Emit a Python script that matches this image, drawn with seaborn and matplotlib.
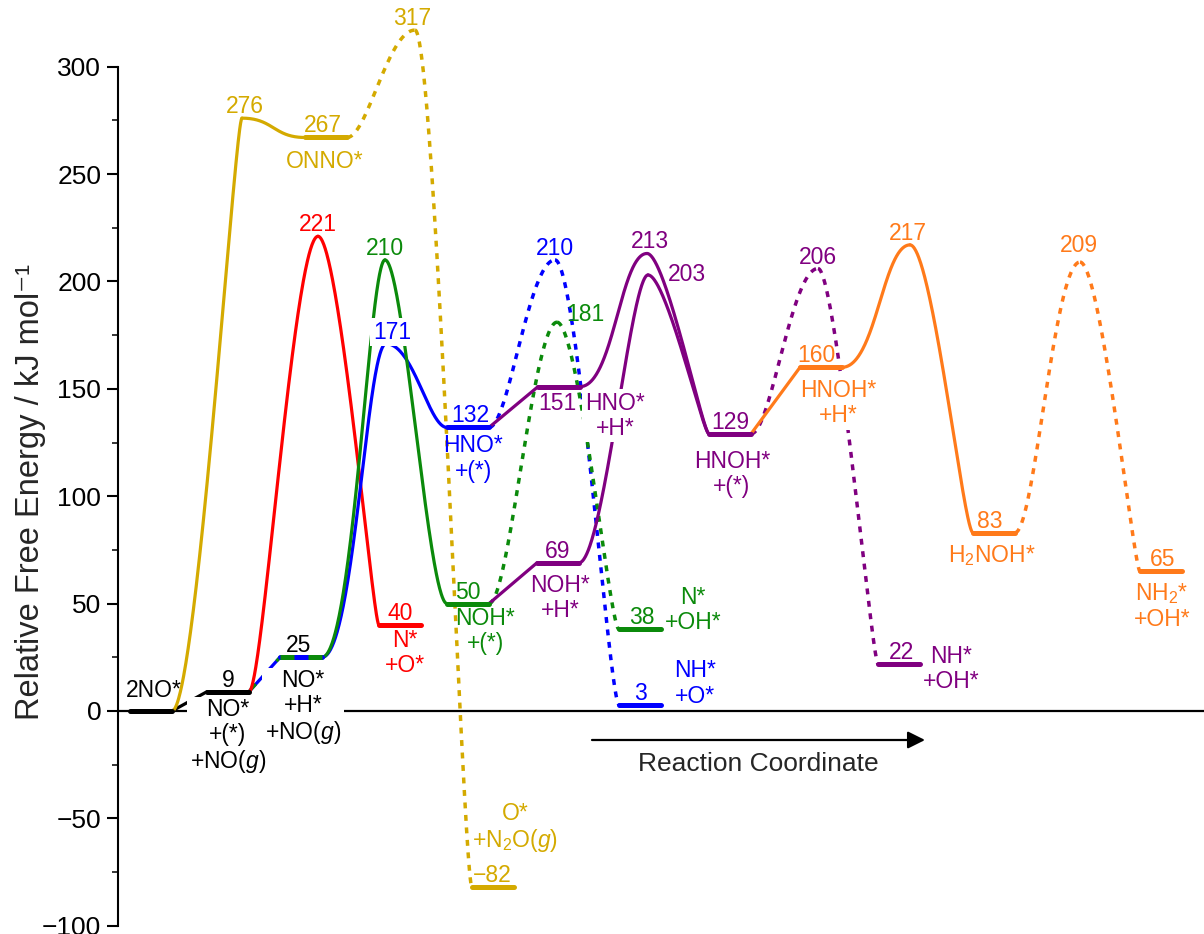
import numpy as np
import matplotlib
matplotlib.use("Agg")
import matplotlib.pyplot as plt
import seaborn as sns

# ---------------- free energies (kJ mol^-1) ----------------
start_E = [0, 9, 25]                        # 2NO*, NO*+(*)+NO(g), NO*+H*+NO(g)
onno_E = [276, 267, 317, -82]               # TS, ONNO*, TS, O*+N2O(g)
diss_E = [221, 40]                          # TS, N*+O*
hno_E = [171, 132, 210, 3]                  # TS, HNO*+(*), TS, NH*+O*
noh_E = [210, 50, 181, 38]                  # TS, NOH*+(*), TS, N*+OH*
hnoh_E = [151, 213, 69, 203, 129, 206, 22]  # HNO*+H*, TS, NOH*+H*, TS, HNOH*+(*), TS, NH*+OH*
h2noh_E = [160, 217, 83, 209, 65]           # HNOH*+H*, TS, H2NOH*, TS, NH2*+OH*

# ---------------- placement along the reaction coordinate ----------------
# plateaus: left edge of the level; transition states: position of the maximum
start_x = [130, 207, 280]
onno_x = [242, 305, 415, 472]
diss_x = [318, 379]
hno_x = [386, 447, 555, 619]
noh_x = [385, 447, 557, 619]
hnoh_x = [538, 647, 537, 648, 709, 818, 878]
h2noh_x = [800, 910, 973, 1080, 1140]
LEVEL_W = 42

BLACK, GOLD, RED = "black", "#d4aa00", "#ff0000"
GREEN, BLUE, PURPLE, ORANGE = "#0b8a0b", "#0000ff", "#800080", "#ff7a1a"

sns.set_theme(style="white")
plt.rcParams["font.family"] = ["Liberation Sans", "DejaVu Sans"]
plt.rcParams["mathtext.fontset"] = "custom"
plt.rcParams["mathtext.rm"] = "Liberation Sans"
plt.rcParams["mathtext.it"] = "Liberation Sans:italic"
plt.rcParams["mathtext.bf"] = "Liberation Sans:bold"
LABEL_FONT = ["Liberation Sans", "DejaVu Sans"]
LABEL_SIZE = 16.5

CURVE_LW, LEVEL_LW, DOT_LW = 2.3, 3.6, 2.5
DOTS = (0, (1.7, 1.9))

fig = plt.figure(figsize=(12.04, 9.34), dpi=100)
ax = fig.add_axes([118 / 1204, 0, 1 - 118 / 1204, 1])
ax.set_xlim(118, 1204)
ax.set_ylim(-(934 - 711) / 2.148, 711 / 2.148)


def bezier(x0, y0, x1, y1, k0, k1, n=150):
    """Cubic Bezier between two points with horizontal end tangents."""
    t = np.linspace(0, 1, n)[:, None]
    dx = x1 - x0
    P = np.array([[x0, y0], [x0 + k0 * dx, y0], [x1 - k1 * dx, y1], [x1, y1]])
    B = ((1 - t) ** 3) * P[0] + 3 * ((1 - t) ** 2) * t * P[1] \
        + 3 * (1 - t) * t ** 2 * P[2] + t ** 3 * P[3]
    return B[:, 0], B[:, 1]


def link(x0, y0, x1, y1, color, k0=0.4, k1=0.4, dotted=False, ls=None, lw=None, z=2):
    xs, ys = bezier(x0, y0, x1, y1, k0, k1)
    style = DOTS if dotted else "-"
    if ls is not None:
        style = ls
    sns.lineplot(x=xs, y=ys, ax=ax, color=color, sort=False, estimator=None,
                 linewidth=lw or (DOT_LW if dotted else CURVE_LW), linestyle=style,
                 zorder=z, solid_capstyle="round")


def level(xl, E, color, ls="-", z=4):
    sns.lineplot(x=[xl, xl + LEVEL_W], y=[E, E], ax=ax, color=color, sort=False,
                 estimator=None, linewidth=LEVEL_LW, linestyle=ls, zorder=z,
                 solid_capstyle="round")


def mid(xl):
    return xl + LEVEL_W / 2


def note(text, x, y, dx, dy, color, ha="center", va="baseline", box=False):
    kw = dict(xy=(x, y), xytext=(dx, dy), textcoords="offset pixels", ha=ha, va=va,
              color=color, fontsize=LABEL_SIZE, family=LABEL_FONT, linespacing=1.12,
              multialignment="center", zorder=3)
    if box:
        kw["bbox"] = dict(boxstyle="square,pad=0.12", fc="white", ec="none")
    ax.annotate(text, **kw)


def num(E):
    return str(E).replace("-", "\u2212")


# zero reference line
ax.axhline(0, color="black", lw=1.6, zorder=1)

# ---------------- common start: 2NO* -> NO* -> NO*+H* ----------------
level(start_x[0], start_E[0], BLACK)
link(start_x[0] + LEVEL_W, start_E[0], start_x[1], start_E[1], BLACK, 0, 0)
level(start_x[1], start_E[1], BLACK)
# shared blue/green branch
link(start_x[1] + LEVEL_W, start_E[1], start_x[2], start_E[2], BLUE, 0, 0)
link(start_x[1] + LEVEL_W, start_E[1], start_x[2], start_E[2], GREEN, 0, 0, ls=(0, (3.2, 3.2)))
level(start_x[2], start_E[2], BLUE)
level(start_x[2], start_E[2], GREEN, ls=(0, (2.8, 2.8)))

# ---------------- N2O route (gold) ----------------
link(start_x[0] + LEVEL_W, start_E[0], onno_x[0], onno_E[0], GOLD, 0.35, 0.1)
link(onno_x[0], onno_E[0], onno_x[1], onno_E[1], GOLD, 0.5, 0.5)
level(onno_x[1], onno_E[1], GOLD)
link(onno_x[1] + LEVEL_W, onno_E[1], onno_x[2], onno_E[2], GOLD, 0.3, 0.4, dotted=True)
link(onno_x[2], onno_E[2], onno_x[3], onno_E[3], GOLD, 0.35, 0.15, dotted=True)
level(onno_x[3], onno_E[3], GOLD)

# ---------------- direct dissociation (red) ----------------
link(start_x[1] + LEVEL_W, start_E[1], diss_x[0], diss_E[0], RED, 0.2, 0.35)
link(diss_x[0], diss_E[0], diss_x[1], diss_E[1], RED, 0.35, 0.1)
level(diss_x[1], diss_E[1], RED)

# ---------------- HNO route (blue) ----------------
link(start_x[2] + LEVEL_W, start_E[2], hno_x[0], hno_E[0], BLUE, 0.5, 0.3)
link(hno_x[0], hno_E[0], hno_x[1], hno_E[1], BLUE, 0.45, 0.3)
level(hno_x[1], hno_E[1], BLUE)
link(hno_x[1] + LEVEL_W, hno_E[1], hno_x[2], hno_E[2], BLUE, 0.3, 0.4, dotted=True)
link(hno_x[2], hno_E[2], hno_x[3], hno_E[3], BLUE, 0.35, 0.15, dotted=True)
level(hno_x[3], hno_E[3], BLUE)

# ---------------- NOH route (green) ----------------
link(start_x[2] + LEVEL_W, start_E[2], noh_x[0], noh_E[0], GREEN, 0.5, 0.25)
link(noh_x[0], noh_E[0], noh_x[1], noh_E[1], GREEN, 0.3, 0.3)
level(noh_x[1], noh_E[1], GREEN)
link(noh_x[1] + LEVEL_W, noh_E[1], noh_x[2], noh_E[2], GREEN, 0.3, 0.35, dotted=True)
link(noh_x[2], noh_E[2], noh_x[3], noh_E[3], GREEN, 0.35, 0.15, dotted=True)
level(noh_x[3], noh_E[3], GREEN)

# ---------------- second hydrogenation (purple) ----------------
link(hno_x[1] + LEVEL_W, hno_E[1], hnoh_x[0], hnoh_E[0], PURPLE, 0, 0)
level(hnoh_x[0], hnoh_E[0], PURPLE)
link(hnoh_x[0] + LEVEL_W, hnoh_E[0], hnoh_x[1], hnoh_E[1], PURPLE, 0.5, 0.4)
link(hnoh_x[1], hnoh_E[1], hnoh_x[4], hnoh_E[4], PURPLE, 0.3, 0.1)
link(noh_x[1] + LEVEL_W, noh_E[1], hnoh_x[2], hnoh_E[2], PURPLE, 0, 0)
level(hnoh_x[2], hnoh_E[2], PURPLE)
link(hnoh_x[2] + LEVEL_W, hnoh_E[2], hnoh_x[3], hnoh_E[3], PURPLE, 0.35, 0.25)
link(hnoh_x[3], hnoh_E[3], hnoh_x[4], hnoh_E[4], PURPLE, 0.3, 0.1)
level(hnoh_x[4], hnoh_E[4], PURPLE)
link(hnoh_x[4] + LEVEL_W, hnoh_E[4], hnoh_x[5], hnoh_E[5], PURPLE, 0.3, 0.4, dotted=True)
link(hnoh_x[5], hnoh_E[5], hnoh_x[6], hnoh_E[6], PURPLE, 0.3, 0.1, dotted=True)
level(hnoh_x[6], hnoh_E[6], PURPLE)

# ---------------- third hydrogenation (orange) ----------------
link(hnoh_x[4] + LEVEL_W, hnoh_E[4], h2noh_x[0], h2noh_E[0], ORANGE, 0, 0)
level(h2noh_x[0], h2noh_E[0], ORANGE)
link(h2noh_x[0] + LEVEL_W, h2noh_E[0], h2noh_x[1], h2noh_E[1], ORANGE, 0.5, 0.4)
link(h2noh_x[1], h2noh_E[1], h2noh_x[2], h2noh_E[2], ORANGE, 0.35, 0.15)
level(h2noh_x[2], h2noh_E[2], ORANGE)
link(h2noh_x[2] + LEVEL_W, h2noh_E[2], h2noh_x[3], h2noh_E[3], ORANGE, 0.3, 0.4, dotted=True)
link(h2noh_x[3], h2noh_E[3], h2noh_x[4], h2noh_E[4], ORANGE, 0.35, 0.1, dotted=True)
level(h2noh_x[4], h2noh_E[4], ORANGE)

# ---------------- labels ----------------
G = r"$\mathit{(g)}$"
note("2NO*", mid(start_x[0]), start_E[0], 3, 14, BLACK)
note(num(start_E[1]), mid(start_x[1]), start_E[1], 0, 5, BLACK)
note("NO*\n+(*)\n+NO" + G, mid(start_x[1]), start_E[1], 0, -45, BLACK, va="center", box=True)
note(num(start_E[2]), mid(start_x[2]), start_E[2], -2, 5, BLACK)
note("NO*\n+H*\n+NO" + G, mid(start_x[2]), start_E[2], 2, -50, BLACK, va="center", box=True)

note(num(onno_E[0]), onno_x[0], onno_E[0], 3, 5, GOLD)
note(num(onno_E[1]), mid(onno_x[1]), onno_E[1], -3, 5, GOLD)
note("ONNO*", mid(onno_x[1]), onno_E[1], -1, -24, GOLD, va="center")
note(num(onno_E[2]), onno_x[2], onno_E[2], -3, 5, GOLD)
note(num(onno_E[3]), mid(onno_x[3]), onno_E[3], -1, 5, GOLD)
note("O*\n+N$_2$O" + G, mid(onno_x[3]), onno_E[3], 22, 59, GOLD, va="center")

note(num(diss_E[0]), diss_x[0], diss_E[0], 0, 5, RED)
note(num(diss_E[1]), mid(diss_x[1]), diss_E[1], 0, 5, RED)
note("N*\n+O*", mid(diss_x[1]), diss_E[1], 5, -28, RED, va="center")

note(num(hno_E[0]), hno_x[0], hno_E[0], 6, 5, BLUE, box=True)
note(num(hno_E[1]), mid(hno_x[1]), hno_E[1], 2, 5, BLUE)
note("HNO*\n+(*)", mid(hno_x[1]), hno_E[1], 5, -31, BLUE, va="center")
note(num(hno_E[2]), hno_x[2], hno_E[2], 0, 5, BLUE)
note(num(hno_E[3]), mid(hno_x[3]), hno_E[3], 0, 5, BLUE)
note("NH*\n+O*", mid(hno_x[3]), hno_E[3], 55, 21, BLUE, va="center")

note(num(noh_E[0]), noh_x[0], noh_E[0], 0, 5, GREEN)
note(num(noh_E[1]), mid(noh_x[1]), noh_E[1], 0, 5, GREEN)
note("NOH*\n+(*)", mid(noh_x[1]), noh_E[1], 17, -27, GREEN, va="center")
note(num(noh_E[2]), noh_x[2], noh_E[2], 28, 8, GREEN, va="center")
note(num(noh_E[3]), mid(noh_x[3]), noh_E[3], 2, 5, GREEN)
note("N*\n+OH*", mid(noh_x[3]), noh_E[3], 53, 19, GREEN, va="center")

note(num(hnoh_E[0]), mid(hnoh_x[0]), hnoh_E[0], -2, -17, PURPLE, va="center")
note("HNO*\n+H*", mid(hnoh_x[0]), hnoh_E[0], 56, -29, PURPLE, va="center", box=True)
note(num(hnoh_E[1]), hnoh_x[1], hnoh_E[1], 3, 5, PURPLE)
note(num(hnoh_E[2]), mid(hnoh_x[2]), hnoh_E[2], 0, 5, PURPLE)
note("NOH*\n+H*", mid(hnoh_x[2]), hnoh_E[2], 2, -35, PURPLE, va="center")
note(num(hnoh_E[3]), hnoh_x[3], hnoh_E[3], 39, 0, PURPLE, va="center")
note(num(hnoh_E[4]), mid(hnoh_x[4]), hnoh_E[4], 0, 5, PURPLE)
note("HNOH*\n+(*)", mid(hnoh_x[4]), hnoh_E[4], 2, -40, PURPLE, va="center")
note(num(hnoh_E[5]), hnoh_x[5], hnoh_E[5], 0, 5, PURPLE)
note(num(hnoh_E[6]), mid(hnoh_x[6]), hnoh_E[6], 2, 5, PURPLE)
note("NH*\n+OH*", mid(hnoh_x[6]), hnoh_E[6], 52, -5, PURPLE, va="center")

note(num(h2noh_E[0]), mid(h2noh_x[0]), h2noh_E[0], -5, 5, ORANGE)
note("HNOH*\n+H*", mid(h2noh_x[0]), h2noh_E[0], 17, -36, ORANGE, va="center", box=True)
note(num(h2noh_E[1]), h2noh_x[1], h2noh_E[1], -2, 5, ORANGE)
note(num(h2noh_E[2]), mid(h2noh_x[2]), h2noh_E[2], -4, 5, ORANGE)
note("H$_2$NOH*", mid(h2noh_x[2]), h2noh_E[2], -2, -23, ORANGE, va="center")
note(num(h2noh_E[3]), h2noh_x[3], h2noh_E[3], -1, 10, ORANGE)
note(num(h2noh_E[4]), mid(h2noh_x[4]), h2noh_E[4], 2, 5, ORANGE)
note("NH$_2$*\n+OH*", mid(h2noh_x[4]), h2noh_E[4], 1, -35, ORANGE, va="center")

# reaction coordinate arrow
ax.annotate("", xy=(925, -13.5), xytext=(592, -13.5),
            arrowprops=dict(arrowstyle="-|>", color="black", lw=1.6, mutation_scale=26,
                            shrinkA=0, shrinkB=0))
ax.text(758, -24.5, "Reaction Coordinate", ha="center", va="center", fontsize=19,
        family=["Liberation Sans", "DejaVu Sans"])

# ---------------- axes styling ----------------
for side in ("top", "right", "bottom"):
    ax.spines[side].set_visible(False)
ax.spines["left"].set_bounds(-100, 300)
ax.spines["left"].set_linewidth(1.5)
ax.spines["left"].set_color("black")
ax.set_xticks([])
ax.set_yticks(np.arange(-100, 301, 50))
ax.set_yticks(np.arange(-75, 300, 50), minor=True)
ax.tick_params(axis="y", which="major", direction="out", length=8, width=1.5,
               labelsize=19, pad=4, left=True, colors="black")
ax.tick_params(axis="y", which="minor", direction="out", length=4, width=1.3, left=True)
ax.set_ylabel("Relative Free Energy / kJ mol\u207b\u00b9", fontsize=23.5)
ax.yaxis.label.set_va("center")
ax.yaxis.set_label_coords((31 - 118) / 1086, 1 - 492 / 934)
ax.set_xlabel("")
ax.patch.set_alpha(0)

fig.savefig("out.png", dpi=100, facecolor="white")
